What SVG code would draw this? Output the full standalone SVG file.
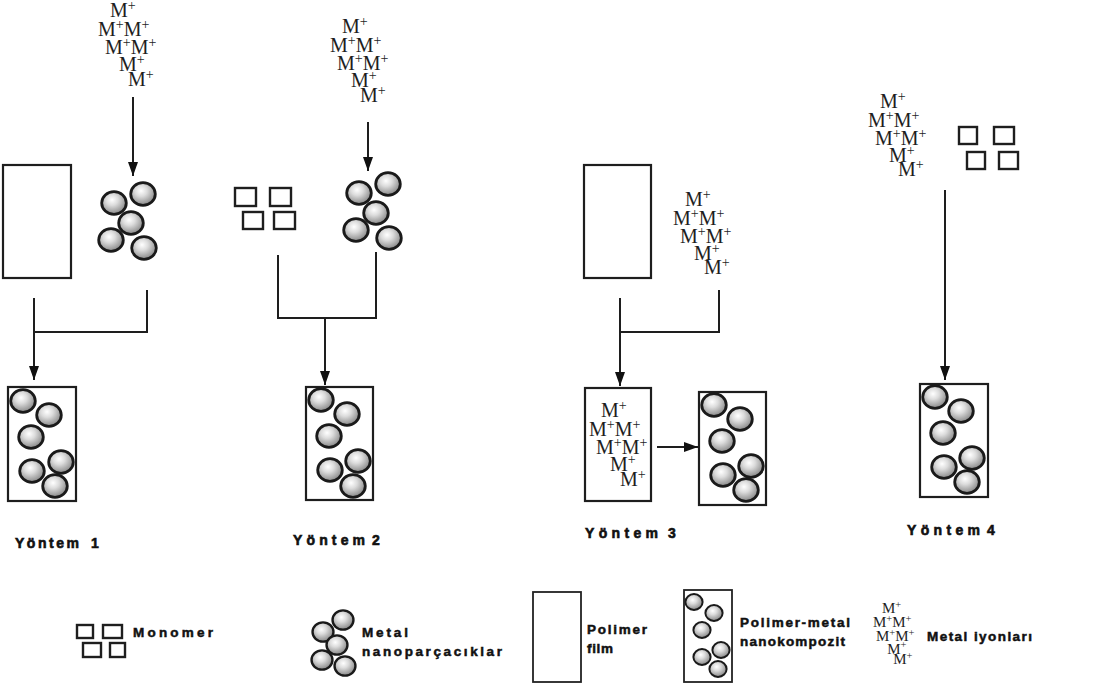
<svg xmlns="http://www.w3.org/2000/svg" xmlns:xlink="http://www.w3.org/1999/xlink" width="1115" height="691" viewBox="0 0 1115 691">
<style>
.box{fill:none;stroke:#1e1e1e;stroke-width:2.2}
.sq{fill:none;stroke:#1e1e1e;stroke-width:2.4}
.ln{fill:none;stroke:#1e1e1e;stroke-width:2}
.ion{font-family:"Liberation Serif",serif;font-size:20px;fill:#1e1e1e}
.ion tspan.p{font-size:14px}
.lbl{font-family:"Liberation Sans",Arial,sans-serif;font-weight:bold;font-size:14px;fill:#111;stroke:#111;stroke-width:0.6}
.leg{font-family:"Liberation Sans",Arial,sans-serif;font-weight:bold;font-size:13.5px;fill:#111;stroke:#111;stroke-width:0.5}
</style>
<defs>
<radialGradient id="sg" cx="0.42" cy="0.36" r="0.7">
<stop offset="0" stop-color="#ffffff"/>
<stop offset="0.35" stop-color="#dcdcdc"/>
<stop offset="1" stop-color="#7a7a7a"/>
</radialGradient>
<symbol id="sp" overflow="visible">
<ellipse cx="0" cy="0" rx="12.3" ry="11.3" fill="url(#sg)" stroke="#1a1a1a" stroke-width="2.8"/>
</symbol>
<marker id="ah" markerUnits="userSpaceOnUse" markerWidth="14" markerHeight="11" refX="14" refY="5" orient="auto">
<path d="M0,0 L14,5 L0,10 Z" fill="#111"/>
</marker>
</defs>

<g id="connectors">
<line class="ln" x1="133" y1="97" x2="133" y2="176" marker-end="url(#ah)"/>
<polyline class="ln" points="34,298 34,332 147,332 147,290"/>
<line class="ln" x1="34" y1="332" x2="34" y2="380" marker-end="url(#ah)"/>
<line class="ln" x1="368" y1="122" x2="368" y2="171" marker-end="url(#ah)"/>
<polyline class="ln" points="278,255 278,318 376,318 376,252"/>
<line class="ln" x1="325" y1="318" x2="325" y2="385" marker-end="url(#ah)"/>
<polyline class="ln" points="620,298 620,332 719,332 719,290"/>
<line class="ln" x1="620" y1="332" x2="620" y2="386" marker-end="url(#ah)"/>
<line class="ln" x1="657" y1="447" x2="698" y2="447" marker-end="url(#ah)"/>
<line class="ln" x1="945" y1="190" x2="945" y2="380" marker-end="url(#ah)"/>
</g>

<g id="ions1">
<text class="ion" x="110" y="17">M<tspan class="p" dy="-7">+</tspan></text>
<text class="ion" x="98" y="36">M<tspan class="p" dy="-7">+</tspan><tspan dy="7">M</tspan><tspan class="p" dy="-7">+</tspan></text>
<text class="ion" x="105" y="54">M<tspan class="p" dy="-7">+</tspan><tspan dy="7">M</tspan><tspan class="p" dy="-7">+</tspan></text>
<text class="ion" x="119" y="71">M<tspan class="p" dy="-7">+</tspan></text>
<text class="ion" x="128" y="86">M<tspan class="p" dy="-7">+</tspan></text>
</g>

<g id="film1"><rect class="box" x="3" y="165" width="68" height="113"/></g>

<g id="np1">
<use xlink:href="#sp" x="114" y="203"/>
<use xlink:href="#sp" x="143" y="194"/>
<use xlink:href="#sp" x="131" y="223"/>
<use xlink:href="#sp" x="111" y="240"/>
<use xlink:href="#sp" x="144" y="248"/>
</g>

<g id="comp1">
<rect class="box" x="8" y="387" width="68" height="114"/>
<use xlink:href="#sp" x="23" y="401"/>
<use xlink:href="#sp" x="49" y="415"/>
<use xlink:href="#sp" x="31" y="437"/>
<use xlink:href="#sp" x="32" y="471"/>
<use xlink:href="#sp" x="61" y="462"/>
<use xlink:href="#sp" x="55" y="486"/>
</g>

<g id="label1"><text class="lbl" y="548"><tspan x="15" textLength="64" lengthAdjust="spacing">Yöntem</tspan><tspan x="91">1</tspan></text></g>

<g id="ions2">
<text class="ion" x="342" y="33">M<tspan class="p" dy="-7">+</tspan></text>
<text class="ion" x="330" y="52">M<tspan class="p" dy="-7">+</tspan><tspan dy="7">M</tspan><tspan class="p" dy="-7">+</tspan></text>
<text class="ion" x="337" y="70">M<tspan class="p" dy="-7">+</tspan><tspan dy="7">M</tspan><tspan class="p" dy="-7">+</tspan></text>
<text class="ion" x="351" y="87">M<tspan class="p" dy="-7">+</tspan></text>
<text class="ion" x="360" y="102">M<tspan class="p" dy="-7">+</tspan></text>
</g>

<g id="mono2">
<rect class="sq" x="235" y="188" width="21" height="18"/>
<rect class="sq" x="270" y="188" width="21" height="18"/>
<rect class="sq" x="243" y="212" width="20" height="17"/>
<rect class="sq" x="274" y="212" width="21" height="17"/>
</g>

<g id="np2">
<use xlink:href="#sp" x="359" y="193"/>
<use xlink:href="#sp" x="388" y="184"/>
<use xlink:href="#sp" x="376" y="213"/>
<use xlink:href="#sp" x="356" y="230"/>
<use xlink:href="#sp" x="389" y="238"/>
</g>

<g id="comp2">
<rect class="box" x="306" y="387" width="67" height="113"/>
<use xlink:href="#sp" x="321" y="400"/>
<use xlink:href="#sp" x="347" y="414"/>
<use xlink:href="#sp" x="329" y="436"/>
<use xlink:href="#sp" x="330" y="470"/>
<use xlink:href="#sp" x="358" y="461"/>
<use xlink:href="#sp" x="353" y="486"/>
</g>

<g id="label2"><text class="lbl" y="545"><tspan x="293" textLength="72" lengthAdjust="spacing">Yöntem</tspan><tspan x="372">2</tspan></text></g>

<g id="film3"><rect class="box" x="584" y="165" width="67" height="113"/></g>

<g id="ions3">
<text class="ion" x="685" y="206">M<tspan class="p" dy="-7">+</tspan></text>
<text class="ion" x="673" y="225">M<tspan class="p" dy="-7">+</tspan><tspan dy="7">M</tspan><tspan class="p" dy="-7">+</tspan></text>
<text class="ion" x="680" y="243">M<tspan class="p" dy="-7">+</tspan><tspan dy="7">M</tspan><tspan class="p" dy="-7">+</tspan></text>
<text class="ion" x="694" y="260">M<tspan class="p" dy="-7">+</tspan></text>
<text class="ion" x="704" y="274">M<tspan class="p" dy="-7">+</tspan></text>
</g>

<g id="ionfilm3">
<rect class="box" x="585" y="388" width="66" height="113"/>
<text class="ion" x="601" y="417">M<tspan class="p" dy="-7">+</tspan></text>
<text class="ion" x="589" y="436">M<tspan class="p" dy="-7">+</tspan><tspan dy="7">M</tspan><tspan class="p" dy="-7">+</tspan></text>
<text class="ion" x="596" y="454">M<tspan class="p" dy="-7">+</tspan><tspan dy="7">M</tspan><tspan class="p" dy="-7">+</tspan></text>
<text class="ion" x="610" y="471">M<tspan class="p" dy="-7">+</tspan></text>
<text class="ion" x="620" y="486">M<tspan class="p" dy="-7">+</tspan></text>
</g>

<g id="comp3">
<rect class="box" x="699" y="392" width="67" height="113"/>
<use xlink:href="#sp" x="714" y="405"/>
<use xlink:href="#sp" x="740" y="419"/>
<use xlink:href="#sp" x="722" y="441"/>
<use xlink:href="#sp" x="723" y="475"/>
<use xlink:href="#sp" x="751" y="466"/>
<use xlink:href="#sp" x="746" y="490"/>
</g>

<g id="label3"><text class="lbl" y="538"><tspan x="585" textLength="73" lengthAdjust="spacing">Yöntem</tspan><tspan x="668">3</tspan></text></g>

<g id="ions4">
<text class="ion" x="880" y="108">M<tspan class="p" dy="-7">+</tspan></text>
<text class="ion" x="868" y="127">M<tspan class="p" dy="-7">+</tspan><tspan dy="7">M</tspan><tspan class="p" dy="-7">+</tspan></text>
<text class="ion" x="875" y="145">M<tspan class="p" dy="-7">+</tspan><tspan dy="7">M</tspan><tspan class="p" dy="-7">+</tspan></text>
<text class="ion" x="889" y="162">M<tspan class="p" dy="-7">+</tspan></text>
<text class="ion" x="898" y="176">M<tspan class="p" dy="-7">+</tspan></text>
</g>

<g id="mono4">
<rect class="sq" x="959" y="127" width="18" height="17"/>
<rect class="sq" x="994" y="127" width="20" height="17"/>
<rect class="sq" x="967" y="152" width="18" height="17"/>
<rect class="sq" x="999" y="152" width="19" height="17"/>
</g>

<g id="comp4">
<rect class="box" x="920" y="384" width="68" height="113"/>
<use xlink:href="#sp" x="935" y="397"/>
<use xlink:href="#sp" x="961" y="411"/>
<use xlink:href="#sp" x="943" y="433"/>
<use xlink:href="#sp" x="944" y="467"/>
<use xlink:href="#sp" x="972" y="458"/>
<use xlink:href="#sp" x="967" y="482"/>
</g>

<g id="label4"><text class="lbl" y="535"><tspan x="907" textLength="73" lengthAdjust="spacing">Yöntem</tspan><tspan x="987">4</tspan></text></g>

<g id="legend-monomer">
<rect class="sq" x="77" y="625" width="16" height="13"/>
<rect class="sq" x="103" y="625" width="19" height="13"/>
<rect class="sq" x="83" y="643" width="18" height="14"/>
<rect class="sq" x="110" y="643" width="15" height="14"/>
<text class="leg" x="133" y="637" textLength="80" lengthAdjust="spacing">Monomer</text>
</g>

<g id="legend-nanoparticles">
<use xlink:href="#sp" transform="translate(323,632) scale(0.85)"/>
<use xlink:href="#sp" transform="translate(343,620) scale(0.85)"/>
<use xlink:href="#sp" transform="translate(337,645) scale(0.85)"/>
<use xlink:href="#sp" transform="translate(322,660) scale(0.85)"/>
<use xlink:href="#sp" transform="translate(345,666) scale(0.85)"/>
<text class="leg" x="362" y="637" textLength="46" lengthAdjust="spacing">Metal</text>
<text class="leg" x="362" y="656" textLength="140" lengthAdjust="spacing">nanoparçacıklar</text>
</g>

<g id="legend-film">
<rect x="533" y="592" width="48" height="90" fill="none" stroke="#222" stroke-width="1.8"/>
<text class="leg" x="587" y="634" textLength="60" lengthAdjust="spacing">Polimer</text>
<text class="leg" x="587" y="653" textLength="26" lengthAdjust="spacing">film</text>
</g>

<g id="legend-composite">
<rect x="684" y="590" width="48" height="92" fill="none" stroke="#222" stroke-width="1.8"/>
<use xlink:href="#sp" transform="translate(694,602) scale(0.7)"/>
<use xlink:href="#sp" transform="translate(714,613) scale(0.7)"/>
<use xlink:href="#sp" transform="translate(702,630) scale(0.7)"/>
<use xlink:href="#sp" transform="translate(702,657) scale(0.7)"/>
<use xlink:href="#sp" transform="translate(721,650) scale(0.7)"/>
<use xlink:href="#sp" transform="translate(718,669) scale(0.7)"/>
<text class="leg" x="740" y="627" textLength="110" lengthAdjust="spacing">Polimer-metal</text>
<text class="leg" x="740" y="646" textLength="105" lengthAdjust="spacing">nanokompozit</text>
</g>

<g id="legend-ions">
<g transform="translate(882,613) scale(0.75)">
<text class="ion" x="0" y="0">M<tspan class="p" dy="-7">+</tspan></text>
<text class="ion" x="-12" y="19">M<tspan class="p" dy="-7">+</tspan><tspan dy="7">M</tspan><tspan class="p" dy="-7">+</tspan></text>
<text class="ion" x="-8" y="37">M<tspan class="p" dy="-7">+</tspan><tspan dy="7">M</tspan><tspan class="p" dy="-7">+</tspan></text>
<text class="ion" x="7" y="54">M<tspan class="p" dy="-7">+</tspan></text>
<text class="ion" x="15" y="68">M<tspan class="p" dy="-7">+</tspan></text>
</g>
<text class="leg" x="927" y="641" textLength="105" lengthAdjust="spacing">Metal iyonları</text>
</g>
</svg>
